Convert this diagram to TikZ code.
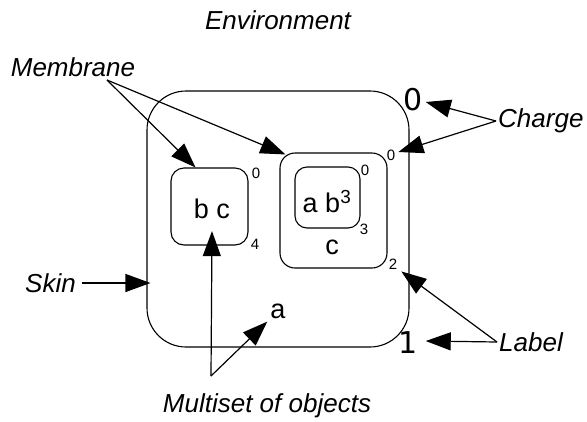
\documentclass[tikz,border=0pt]{standalone}
\usepackage{fontspec}
\setmainfont{Liberation Sans}
\newfontfamily\numfont{DejaVu Sans}
\usetikzlibrary{arrows.meta}
\tikzset{
  membox/.style={draw, line width=1.1pt, inner sep=0pt},
  lbl/.style={font=\fontsize{26}{30}\selectfont\itshape, inner sep=2pt},
  obj/.style={font=\fontsize{27}{30}\selectfont, inner sep=1pt},
  tiny/.style={font=\fontsize{15}{17}\selectfont, inner sep=0pt},
  bignum/.style={font=\numfont\fontsize{30}{33}\selectfont, inner sep=0pt},
  arr/.style={line width=1.2pt, -{Triangle[length=25pt,width=18pt]}}
}
\begin{document}
\begin{tikzpicture}[x=1pt,y=-1pt]
\useasboundingbox (0,0) rectangle (587,421);
% membranes
\node[membox, rounded corners=39pt, minimum width=262pt, minimum height=256pt] (skin) at (278,219) {};
\node[membox, rounded corners=13pt, minimum width=77pt, minimum height=77pt] (m4) at (209.5,206.5) {};
\node[membox, rounded corners=15pt, minimum width=107pt, minimum height=115pt] (m2) at (333.5,210.5) {};
\node[membox, rounded corners=12pt, minimum width=65pt, minimum height=61pt] (m3) at (327.5,197.5) {};
% contents
\node[obj] (bc) at (212,209) {b c};
\node[obj] (ab) at (327,202) {a b\textsuperscript{3}};
\node[obj] (c) at (332,247) {c};
\node[obj] (a) at (278,311) {a};
% labels / charges
\node[tiny] (ch4) at (256,173) {0};
\node[tiny] (lb4) at (255,244) {4};
\node[tiny] (ch3) at (365,170) {0};
\node[tiny] (lb3) at (364,229) {3};
\node[tiny] (ch2) at (391,155) {0};
\node[tiny] (lb2) at (393,264) {2};
\node[bignum] (ch1) at (413,100) {0};
\node[bignum] (lb1) at (408,343) {1};
% annotation texts
\node[lbl] (env) at (278,20) {Environment};
\node[lbl] (memb) at (73,67) {Membrane};
\node[lbl, anchor=west] (charge) at (496,121) {Charge};
\node[lbl, anchor=east] (skinl) at (78,283) {Skin};
\node[lbl, anchor=west] (label) at (497,342) {Label};
\node[lbl] (multi) at (267,406) {Multiset of objects};
% connectors
\coordinate (mc) at (107,80);
\coordinate (ms) at (211,376);
\draw[arr] (mc) -- ([xshift=-14pt]m4.north);
\draw[arr] (mc) -- ([shift={(6pt,-2pt)}]m2.north west);
\draw[arr] (charge.west) -- ([xshift=3pt,yshift=-2pt]ch1.east);
\draw[arr] (charge.west) -- ([xshift=3pt,yshift=3pt]ch2.east);
\draw[arr] ([xshift=4pt]skinl.east) -- ([xshift=4pt]skinl.east -| skin.west);
\draw[arr] (label.west) -- ([xshift=8pt,yshift=2pt]lb1.east);
\draw[arr] (label.west) -- ([xshift=4pt,yshift=-2pt]lb2.south east);
\draw[arr] (ms) -- ([yshift=-11pt]bc.south);
\draw[arr] (ms) -- ([shift={(-2pt,-2pt)}]a.south west);
\end{tikzpicture}
\end{document}
